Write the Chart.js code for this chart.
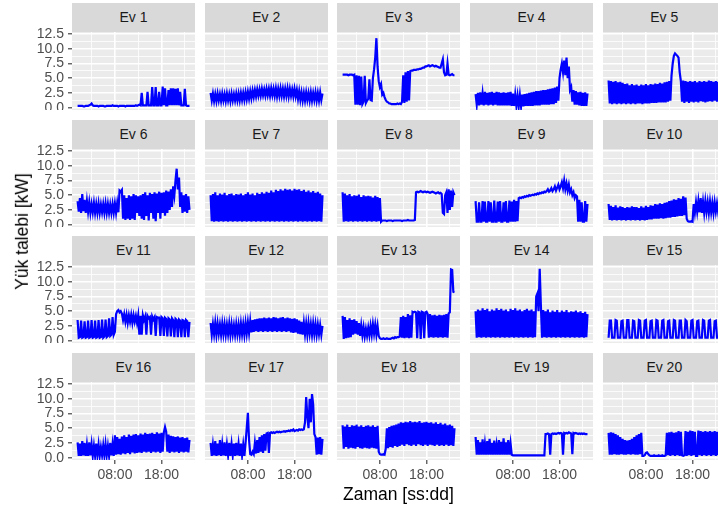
<!DOCTYPE html>
<html>
<head>
<meta charset="utf-8">
<script src="https://cdn.jsdelivr.net/npm/chart.js@4.4.0/dist/chart.umd.min.js"></script>
<style>
  body { margin: 0; width: 718px; height: 510px; overflow: hidden; background: #fff; position: relative;
         font-family: "Liberation Sans", Arial, Helvetica, sans-serif; }
  .strip { position: absolute; background: #d9d9d9; color: #1a1a1a; font-size: 14px; text-align: center; }
  .panel { position: absolute; }
  .title { position: absolute; color: #000; font-size: 17.5px; white-space: nowrap; }
</style>
</head>
<body>
<script>
// facet labels and axis ticks
var evNames = ['Ev 1', 'Ev 2', 'Ev 3', 'Ev 4', 'Ev 5', 'Ev 6', 'Ev 7', 'Ev 8', 'Ev 9', 'Ev 10',
               'Ev 11', 'Ev 12', 'Ev 13', 'Ev 14', 'Ev 15', 'Ev 16', 'Ev 17', 'Ev 18', 'Ev 19', 'Ev 20'];
var yMajorTicks = [0, 2.5, 5, 7.5, 10, 12.5];
var yMinorTicks = [1.25, 3.75, 6.25, 8.75, 11.25];
var xMajorHours = [8, 18];
var xMajorLabels = ['08:00', '18:00'];
var xMinorHours = [3, 13, 23];

// load demand [kW], one value every 15 minutes from 00:00 to 24:00
var ev1 = [0.3,0.3,0.3,0.3,0.3,0.2,0.2,0.3,0.3,0.3,0.4,0.5,0.7,0.4,0.3,0.3,0.3,0.3,0.2,0.3,0.3,0.3,0.3,0.2,
  0.2,0.3,0.3,0.3,0.3,0.3,0.4,0.3,0.3,0.3,0.3,0.2,0.3,0.3,0.3,0.3,0.3,0.2,0.3,0.3,0.3,0.3,0.3,0.3,
  0.3,0.3,0.4,0.3,0.4,0.5,0.4,2.5,0.4,0.4,0.4,0.4,2.7,0.4,0.4,0.4,3.5,0.4,0.4,3.5,0.4,0.4,2.7,0.4,
  0.4,3.6,0.4,3.3,0.4,0.4,3.0,0.4,3.3,0.4,3.3,0.4,3.2,0.4,3.3,0.4,2.7,0.4,0.4,0.4,3.2,0.4,0.3,0.3,0.3];
var ev2 = [2.5,1.2,2.4,1.1,2.3,1.1,2.4,1.2,2.3,1.1,2.4,1.2,2.3,1.1,2.4,1.2,2.3,1.1,2.4,1.2,2.3,1.2,2.4,1.2,
  2.4,1.2,2.5,1.3,2.5,1.3,2.6,1.4,2.7,1.5,2.8,1.6,2.9,1.8,3.0,1.9,3.1,2.0,3.1,2.0,3.2,2.1,3.1,2.0,
  3.2,2.1,3.2,2.0,3.3,2.1,3.2,2.0,3.3,1.9,3.2,2.0,3.3,2.0,3.2,1.9,3.2,2.0,3.3,1.9,3.2,2.0,3.1,1.9,
  3.2,1.9,3.0,1.5,2.8,1.3,2.6,1.2,2.5,1.2,2.6,1.3,2.5,1.2,2.6,1.2,2.5,1.3,2.6,1.2,2.5,1.2,2.6,1.3,2.4];
var ev3 = [5.6,5.6,5.6,5.6,5.6,5.5,5.6,5.6,5.6,5.5,5.6,0.5,5.5,0.5,5.4,0.4,5.3,0.6,1.0,5.4,0.8,1.2,1.5,4.8,
  1.3,1.2,5.0,6.5,8.5,11.8,7.0,4.5,3.5,4.0,2.2,2.5,1.8,1.3,1.0,0.9,0.7,0.7,0.6,0.6,0.6,0.6,0.6,0.7,
  0.6,0.7,0.6,1.0,5.5,0.8,6.0,1.0,6.2,1.2,6.2,6.3,6.3,6.4,6.4,6.4,6.5,6.5,6.6,6.6,6.7,6.8,6.8,7.0,
  7.0,7.1,7.2,7.0,7.1,7.2,7.1,7.0,7.1,7.0,6.9,6.8,6.8,7.5,8.2,6.0,5.5,5.6,7.5,5.6,5.5,5.6,5.7,5.5,5.5];
var ev4 = [2.3,0.5,2.5,0.4,2.6,0.5,2.4,0.4,2.7,0.5,2.5,0.4,2.6,0.5,2.7,0.4,2.5,0.5,2.7,0.4,2.6,0.4,2.5,0.4,
  2.6,0.4,2.5,0.4,2.6,0.4,2.7,0.3,2.4,0.3,2.2,0.3,2.0,0.2,2.1,0.2,2.2,0.2,2.3,0.3,2.4,0.3,2.5,0.3,
  2.6,0.3,2.7,0.4,2.8,0.4,2.8,0.4,2.9,0.5,3.0,0.5,3.0,0.5,3.1,0.5,3.2,0.6,3.3,0.6,3.4,0.8,3.6,1.2,
  5.0,6.5,7.5,6.0,8.0,5.5,8.5,5.0,7.0,3.0,3.5,1.0,3.0,0.5,2.8,0.5,2.6,0.4,2.7,0.3,2.5,0.3,2.6,0.3,2.4];
var ev5 = [4.6,0.7,4.5,0.6,4.4,0.7,4.5,0.6,4.3,0.7,4.4,0.6,4.2,0.7,4.0,0.6,4.1,0.7,3.8,0.6,4.0,0.7,3.8,0.6,
  3.9,0.7,3.7,0.7,3.9,0.6,3.8,0.7,4.0,0.7,3.8,0.7,4.0,0.8,3.9,0.8,4.1,0.8,4.0,0.9,4.2,0.9,4.1,0.9,
  4.3,0.9,4.4,1.0,4.5,1.2,5.5,7.5,8.8,9.2,9.0,8.8,8.5,6.0,4.5,1.0,4.6,0.8,4.5,1.0,4.4,0.8,4.5,1.0,
  4.4,0.9,4.5,1.0,4.3,0.9,4.5,1.1,4.4,1.0,4.5,0.9,4.4,1.0,4.6,1.1,4.5,1.0,4.4,1.2,4.5,1.0,4.4,1.1,4.5];
var ev6 = [4.0,2.2,4.5,2.0,5.2,2.3,4.2,2.0,4.0,2.2,3.8,2.0,3.5,2.1,3.7,2.0,3.5,2.0,3.6,2.0,3.4,2.1,3.5,2.0,
  3.6,2.0,3.5,2.0,3.4,2.0,3.5,2.0,3.6,2.0,3.7,2.1,5.8,5.6,5.9,1.0,5.0,0.8,4.5,1.0,5.0,0.8,4.8,1.0,
  5.2,0.8,5.0,2.0,4.8,1.5,5.0,1.0,5.2,0.8,5.5,1.5,5.0,0.7,5.4,2.0,5.2,1.0,5.5,0.6,5.3,2.0,5.6,1.0,
  5.4,2.0,5.5,1.5,5.8,2.0,5.6,2.5,6.0,3.0,6.5,5.0,7.5,9.5,6.0,8.0,3.0,5.5,2.0,5.0,2.2,5.2,2.0,4.8,2.5];
var ev7 = [5.0,0.6,5.2,0.5,5.5,0.6,5.0,0.5,5.3,0.6,5.1,0.5,5.4,0.6,5.0,0.5,5.2,0.6,5.3,0.5,5.0,0.6,5.2,0.5,
  5.1,0.6,5.3,0.5,5.0,0.6,5.2,0.5,5.5,0.6,5.1,0.5,5.3,0.6,5.0,0.5,5.4,0.6,5.2,0.5,5.5,0.6,5.3,0.5,
  5.6,0.6,5.4,0.5,5.8,0.6,5.5,0.5,5.9,0.6,5.7,0.5,6.0,0.6,5.8,0.5,6.1,0.6,5.9,0.5,6.0,0.6,5.8,0.5,
  6.1,0.6,5.9,0.5,6.0,0.6,5.7,0.5,5.9,0.6,5.6,0.5,5.8,0.6,5.5,0.5,5.7,0.6,5.4,0.5,5.6,0.6,5.3,0.5,5.0];
var ev8 = [5.5,0.5,5.3,0.6,5.0,0.5,5.2,0.6,4.8,0.5,5.0,0.6,4.9,0.5,5.1,0.6,4.7,0.5,5.0,0.6,4.8,0.5,4.9,0.6,
  4.8,0.5,4.6,0.6,4.9,0.5,4.7,0.6,4.5,0.5,0.7,0.7,0.7,0.7,0.6,0.7,0.7,0.7,0.7,0.6,0.7,0.7,0.7,0.7,
  0.7,0.7,0.7,0.6,0.7,0.7,0.7,0.7,0.8,0.7,0.7,0.7,0.7,0.7,0.8,5.5,5.6,5.5,5.6,5.7,5.6,5.5,5.6,5.6,
  5.5,5.6,5.5,5.4,5.5,5.6,5.5,5.4,5.3,5.4,5.5,5.3,5.4,5.2,2.0,1.8,5.0,5.5,2.0,6.0,2.5,5.8,3.0,5.5,5.0];
var ev9 = [4.0,0.5,0.5,3.8,0.5,0.5,4.0,0.5,3.9,0.5,0.5,4.0,0.5,3.8,0.5,0.5,4.1,0.5,0.5,3.9,0.5,4.0,0.5,0.5,
  3.8,0.5,4.0,0.5,0.5,4.1,0.5,3.9,0.5,4.2,0.5,4.0,0.6,4.5,4.6,4.5,4.7,4.6,4.8,4.7,4.9,4.8,5.0,4.9,
  5.0,5.1,5.0,5.2,5.1,5.3,5.2,5.4,5.3,5.5,5.4,5.6,5.5,5.7,6.0,5.6,5.8,6.2,5.7,6.0,6.5,5.8,6.3,6.8,
  6.0,6.5,7.2,6.2,7.5,6.0,7.0,5.8,6.8,5.5,6.0,5.0,5.5,4.5,5.0,4.8,0.5,4.2,0.5,3.8,0.5,0.5,4.0,0.5,3.5];
var ev10 = [3.5,0.8,3.2,0.7,3.0,0.8,3.3,0.7,2.9,0.8,3.1,0.7,3.0,0.8,2.8,0.7,3.0,0.8,2.9,0.7,3.1,0.8,3.0,0.7,
  3.0,0.8,2.8,0.7,3.1,0.8,2.9,0.7,3.2,0.8,3.0,0.9,3.3,0.9,3.2,1.0,3.5,1.0,3.4,1.0,3.6,1.1,3.5,1.0,
  3.7,1.1,3.8,1.2,4.0,1.2,4.1,1.3,4.3,1.3,4.2,1.4,4.5,1.5,4.4,1.5,4.8,1.6,4.6,1.0,0.6,0.5,0.5,0.6,
  0.5,3.5,2.0,3.8,2.2,4.0,2.1,4.5,2.0,3.9,2.0,4.0,2.2,3.8,2.0,3.9,2.1,3.7,2.0,3.8,2.2,3.6,2.1,3.7,3.0];
var ev11 = [3.5,0.5,0.6,3.4,0.5,0.6,3.3,0.5,0.6,3.4,0.5,0.6,3.5,0.5,0.6,3.4,0.5,0.6,3.5,0.5,0.6,3.6,0.5,0.7,
  3.6,0.6,0.8,3.8,0.8,1.0,4.0,1.0,1.5,4.5,5.0,5.2,4.8,5.0,4.6,3.5,4.5,3.2,4.4,3.0,4.3,3.2,4.4,3.0,
  4.3,3.2,4.2,3.0,4.3,1.0,4.2,1.0,4.3,3.5,4.1,1.0,4.2,3.8,4.0,1.0,4.1,3.6,4.0,0.8,4.0,3.9,3.9,0.8,
  4.0,3.8,0.8,3.9,3.7,0.7,3.8,3.6,0.7,3.8,3.5,0.6,3.7,3.5,0.6,3.6,3.4,0.6,3.5,3.4,0.6,3.5,3.3,0.6,3.2];
var ev12 = [3.0,1.0,2.8,1.1,3.0,1.0,2.9,1.2,2.7,1.0,2.9,1.1,2.8,1.0,2.7,1.1,2.9,1.0,2.8,1.1,2.6,1.0,2.8,1.1,
  2.7,1.0,2.9,1.1,2.8,1.0,3.0,1.2,3.1,1.3,3.3,1.4,3.5,1.5,3.6,1.6,3.7,1.5,3.8,1.6,3.8,1.5,3.9,1.6,
  3.8,1.5,3.9,1.6,3.8,1.5,4.0,1.6,3.9,1.5,3.8,1.6,3.9,1.5,4.0,1.6,3.8,1.5,3.9,1.6,3.8,1.4,3.7,1.3,
  3.8,1.4,3.6,1.2,3.4,1.1,3.2,1.0,3.0,1.1,2.9,1.0,3.0,1.2,2.8,1.0,2.9,1.1,2.8,1.0,2.7,1.1,2.6,1.0,2.5];
var ev13 = [4.2,0.3,4.0,0.4,3.5,0.5,3.8,0.6,3.5,1.0,3.6,1.2,3.3,1.0,3.0,0.8,2.6,0.9,2.3,0.7,2.0,0.8,2.2,0.9,
  2.5,1.0,2.8,1.2,2.7,1.0,2.5,0.8,0.4,0.3,0.3,0.4,0.3,0.3,0.4,0.3,0.3,0.3,0.4,0.5,0.4,0.6,0.5,0.6,
  0.6,0.7,4.0,0.5,4.2,0.4,4.0,0.5,4.5,0.4,4.3,0.5,4.9,4.8,4.9,4.8,0.4,4.9,4.8,0.3,4.9,4.8,0.4,4.8,
  4.9,4.5,0.5,4.5,0.6,4.3,0.5,4.4,0.6,4.2,0.5,4.4,0.6,4.3,0.5,4.4,0.6,4.5,0.5,4.6,4.8,12.1,12.0,8.3,8.2];
var ev14 = [5.0,0.5,5.3,0.6,5.1,0.5,5.5,0.6,5.2,0.5,5.4,0.6,5.0,0.5,5.3,0.6,5.1,0.5,5.5,0.6,5.2,0.5,5.4,0.6,
  5.1,0.5,5.3,0.6,5.0,0.5,5.4,0.6,5.2,0.5,5.5,0.6,5.1,0.5,5.3,0.6,5.0,0.5,5.2,0.6,5.4,0.5,5.1,0.6,
  5.3,0.5,5.0,0.6,7.5,8.0,5.0,12.2,6.0,0.5,5.2,0.6,5.0,0.5,5.3,0.6,4.8,0.5,5.1,0.6,4.9,0.5,5.2,0.6,
  4.8,0.5,5.1,0.6,4.9,0.5,5.2,0.6,4.8,0.5,5.0,0.6,4.9,0.5,5.1,0.6,4.8,0.5,5.0,0.6,4.7,0.5,4.9,0.6,4.5];
var ev15 = [0.5,3.4,3.4,0.5,0.5,0.5,3.5,3.4,0.5,0.5,0.5,3.3,3.4,0.5,0.5,0.5,3.5,3.5,0.5,0.5,0.5,3.4,3.3,0.5,
  0.5,0.5,3.5,3.4,0.5,0.5,0.5,3.4,3.5,0.5,0.5,0.5,3.3,3.4,0.5,0.5,0.5,3.5,3.4,0.5,0.5,0.5,3.4,3.5,
  0.5,0.5,0.5,3.3,3.4,0.5,0.5,0.5,3.5,3.4,0.5,0.5,0.5,3.4,3.4,0.5,0.5,0.5,3.5,3.3,0.5,0.5,0.5,3.4,
  3.5,0.5,0.5,0.5,3.3,3.4,0.5,0.5,0.5,3.5,3.4,0.5,0.5,0.5,3.4,3.5,0.5,0.5,0.5,3.3,3.4,0.5,0.5,0.5,3.4];
var ev16 = [2.6,0.3,2.4,0.3,2.8,0.4,2.5,0.3,2.2,0.3,2.6,0.4,2.3,0.3,2.0,0.3,2.4,0.4,2.2,0.3,1.8,0.4,2.1,0.3,
  2.3,0.4,2.0,0.3,2.5,0.4,2.3,0.3,3.8,0.5,3.5,0.6,3.2,0.5,3.6,0.7,3.8,0.6,3.5,0.8,3.9,0.6,3.7,0.9,
  3.9,0.7,4.0,0.8,3.8,0.9,4.1,0.8,3.9,1.0,4.2,0.9,4.0,1.0,4.1,0.8,4.2,1.0,4.0,0.9,4.3,1.0,4.1,0.8,
  4.2,1.0,4.3,5.2,4.4,1.0,3.9,0.8,3.7,1.0,3.6,0.9,3.5,1.0,3.6,0.8,3.4,1.0,3.5,0.9,3.3,1.0,3.4,0.9,3.0];
var ev17 = [2.5,0.3,2.2,0.4,2.8,0.3,2.4,0.4,3.0,0.3,2.3,0.4,2.6,0.3,2.2,0.4,2.5,0.3,2.3,0.4,2.4,0.3,2.5,0.4,
  2.3,0.3,2.4,0.4,2.2,0.3,2.5,5.0,7.6,3.0,0.6,0.5,1.0,0.6,2.5,0.7,3.0,0.8,3.5,1.0,3.8,0.8,4.0,1.2,
  4.1,4.2,0.8,4.2,4.3,4.2,4.3,4.2,4.3,4.4,4.3,4.4,4.3,4.4,4.4,4.5,4.4,4.5,4.5,4.6,4.5,4.7,4.6,4.8,
  4.5,4.6,4.7,4.6,4.8,4.7,4.8,4.7,4.8,6.0,10.3,7.0,5.0,10.0,6.0,10.8,9.0,4.0,3.5,0.5,3.4,0.6,3.5,0.5,3.2];
var ev18 = [5.5,1.5,5.3,1.8,5.6,1.5,5.2,1.7,5.5,1.6,5.4,1.5,5.6,1.8,5.3,1.6,5.5,1.5,5.2,1.7,5.4,1.6,5.5,1.5,
  5.3,1.7,5.5,1.6,5.2,1.5,5.4,1.0,0.6,0.5,0.5,0.6,0.5,1.5,5.0,1.6,5.2,1.8,5.4,1.7,5.5,2.0,5.6,1.8,
  5.8,2.0,6.0,2.2,5.9,2.0,6.1,2.3,6.0,2.1,6.2,2.0,6.0,2.2,6.1,2.0,6.0,2.3,6.2,2.1,5.9,2.0,6.0,2.2,
  6.1,2.0,5.9,2.2,6.0,2.1,5.8,2.0,6.0,2.2,5.7,2.0,5.9,2.1,5.6,2.0,5.8,2.2,5.5,2.0,5.6,2.1,5.4,2.0,5.0];
var ev19 = [3.5,0.5,3.0,0.5,2.6,0.5,3.1,0.5,2.4,0.5,2.8,0.5,3.2,0.5,2.5,0.5,2.9,0.5,2.2,0.5,3.0,0.5,2.7,0.5,
  3.3,0.5,2.6,0.5,3.0,0.5,2.4,0.5,0.4,0.4,0.4,0.4,0.4,0.4,0.4,0.4,0.4,0.4,0.4,0.4,0.4,0.4,0.4,0.4,
  0.4,0.4,0.4,0.4,0.4,0.4,0.4,0.4,0.4,0.4,0.4,0.4,4.0,4.0,4.1,4.0,0.5,4.0,4.1,4.0,4.1,4.0,4.1,4.2,
  4.1,4.2,4.1,0.5,4.2,4.1,4.2,4.1,4.3,4.2,4.1,0.6,4.2,4.1,4.2,4.1,4.0,4.1,4.0,4.1,4.0,4.1,4.0,4.0,4.0];
var ev20 = [4.2,0.5,4.3,0.5,4.2,0.6,4.0,0.5,3.8,0.5,3.5,0.6,3.2,0.5,3.0,0.5,2.9,0.6,3.0,0.5,3.2,0.6,3.5,0.5,
  3.8,0.5,4.0,0.6,4.2,0.3,0.3,0.4,0.8,0.9,0.6,0.4,0.3,0.3,0.3,0.4,0.3,0.3,0.3,0.4,0.3,0.3,0.4,0.3,
  0.3,0.4,4.2,0.4,4.3,0.3,4.4,0.4,4.2,0.3,4.3,0.4,4.5,0.3,4.4,0.4,0.3,0.4,4.5,0.3,4.4,0.4,4.6,0.3,
  4.5,0.4,4.4,0.3,0.3,4.6,0.4,4.5,0.3,4.4,0.4,4.5,0.3,4.4,0.4,4.5,0.3,4.4,0.4,4.5,0.3,4.4,0.4,4.5,0.3];

var series = [ev1, ev2, ev3, ev4, ev5, ev6, ev7, ev8, ev9, ev10,
              ev11, ev12, ev13, ev14, ev15, ev16, ev17, ev18, ev19, ev20];

// layout of the 5 x 4 facet grid (px)
var PLOT_LEFT = 72, COL_STEP = 132.7, PANEL_W = 123;
var ROW_TOP = 3, ROW_STEP = 116.5, STRIP_H = 29, PANEL_H = 78;
var Y_AXIS_W = 72, X_AXIS_H = 26, TOP_ROOM = 10;

Chart.defaults.font.family = '"Liberation Sans", Arial, Helvetica, sans-serif';

// grey panel background under the grid
var panelBg = {
    id: 'panelBg',
    beforeDraw: function(chart) {
        var a = chart.chartArea, ctx = chart.ctx;
        ctx.save();
        ctx.fillStyle = '#ebebeb';
        ctx.fillRect(a.left, a.top, a.right - a.left, a.bottom - a.top);
        ctx.restore();
    }
};

function isIn(list, v) {
    return list.some(function(m) { return Math.abs(m - v) < 1e-6; });
}

function makePanel(idx) {
    var row = Math.floor(idx / 5), col = idx % 5;
    var left = PLOT_LEFT + col * COL_STEP;
    var stripTop = ROW_TOP + row * ROW_STEP;
    var plotTop = stripTop + STRIP_H;
    var showY = col === 0, showX = row === 3;
    var padL = showY ? Y_AXIS_W : 0, padB = showX ? X_AXIS_H : 0;

    var strip = document.createElement('div');
    strip.className = 'strip';
    strip.style.left = left + 'px';
    strip.style.top = stripTop + 'px';
    strip.style.width = PANEL_W + 'px';
    strip.style.height = STRIP_H + 'px';
    strip.style.lineHeight = STRIP_H + 'px';
    strip.textContent = evNames[idx];
    document.body.appendChild(strip);

    // the canvas starts a little above the panel so the top tick label is not cut
    var canvas = document.createElement('canvas');
    canvas.className = 'panel';
    canvas.width = PANEL_W + padL;
    canvas.height = TOP_ROOM + PANEL_H + padB;
    canvas.style.left = (left - padL) + 'px';
    canvas.style.top = (plotTop - TOP_ROOM) + 'px';
    document.body.appendChild(canvas);

    var values = series[idx];
    var points = values.map(function(v, i) {
        return { x: i * 24 / (values.length - 1), y: v };
    });

    new Chart(canvas.getContext('2d'), {
        type: 'line',
        data: { datasets: [{ data: points, borderColor: '#0000ff', borderWidth: 2.2, pointRadius: 0, tension: 0 }] },
        plugins: [panelBg],
        options: {
            responsive: false,
            animation: false,
            events: [],
            layout: { padding: { top: TOP_ROOM, left: 0, right: 0, bottom: 0 } },
            plugins: { legend: { display: false }, tooltip: { enabled: false } },
            scales: {
                x: {
                    type: 'linear', min: -1.2, max: 25.18,
                    afterBuildTicks: function(s) {
                        s.ticks = xMinorHours.concat(xMajorHours).sort(function(a, b) { return a - b; })
                            .map(function(v) { return { value: v }; });
                    },
                    afterFit: function(s) {
                        s.height = padB;
                        s.paddingLeft = 0; s.paddingRight = 0; s.paddingTop = 0; s.paddingBottom = 0;
                    },
                    border: { display: false },
                    grid: {
                        color: '#ffffff',
                        lineWidth: function(c) { return isIn(xMajorHours, c.tick.value) ? 1.6 : 0.8; },
                        drawTicks: showX,
                        tickLength: 4,
                        tickWidth: 1.1,
                        tickColor: function(c) { return isIn(xMajorHours, c.tick.value) ? '#333333' : 'rgba(0,0,0,0)'; }
                    },
                    ticks: {
                        display: showX, autoSkip: false, maxRotation: 0, padding: 3,
                        color: '#4d4d4d', font: { size: 14 },
                        callback: function(v) {
                            var k = xMajorHours.indexOf(v);
                            return k >= 0 ? xMajorLabels[k] : '';
                        }
                    }
                },
                y: {
                    type: 'linear', min: -0.4, max: 12.85,
                    afterBuildTicks: function(s) {
                        s.ticks = yMajorTicks.concat(yMinorTicks).sort(function(a, b) { return a - b; })
                            .map(function(v) { return { value: v }; });
                    },
                    afterFit: function(s) {
                        s.width = padL;
                        s.paddingLeft = 0; s.paddingRight = 0; s.paddingTop = 0; s.paddingBottom = 0;
                    },
                    border: { display: false },
                    grid: {
                        color: '#ffffff',
                        lineWidth: function(c) { return isIn(yMajorTicks, c.tick.value) ? 1.6 : 0.8; },
                        drawTicks: showY,
                        tickLength: 4,
                        tickWidth: 1.1,
                        tickColor: function(c) { return isIn(yMajorTicks, c.tick.value) ? '#333333' : 'rgba(0,0,0,0)'; }
                    },
                    ticks: {
                        display: showY, autoSkip: false, padding: 4,
                        color: '#4d4d4d', font: { size: 14 },
                        callback: function(v) { return isIn(yMajorTicks, v) ? v.toFixed(1) : ''; }
                    }
                }
            }
        }
    });
}

for (var i = 0; i < series.length; i++) {
    makePanel(i);
}

// axis titles
var yTitle = document.createElement('div');
yTitle.className = 'title';
yTitle.textContent = 'Yük talebi [kW]';
document.body.appendChild(yTitle);
yTitle.style.left = (22 - yTitle.offsetWidth / 2) + 'px';
yTitle.style.top = (231 - yTitle.offsetHeight / 2) + 'px';
yTitle.style.transform = 'rotate(-90deg)';

var xTitle = document.createElement('div');
xTitle.className = 'title';
xTitle.textContent = 'Zaman [ss:dd]';
document.body.appendChild(xTitle);
xTitle.style.left = (398.5 - xTitle.offsetWidth / 2) + 'px';
xTitle.style.top = (494 - xTitle.offsetHeight / 2) + 'px';
</script>
</body>
</html>
